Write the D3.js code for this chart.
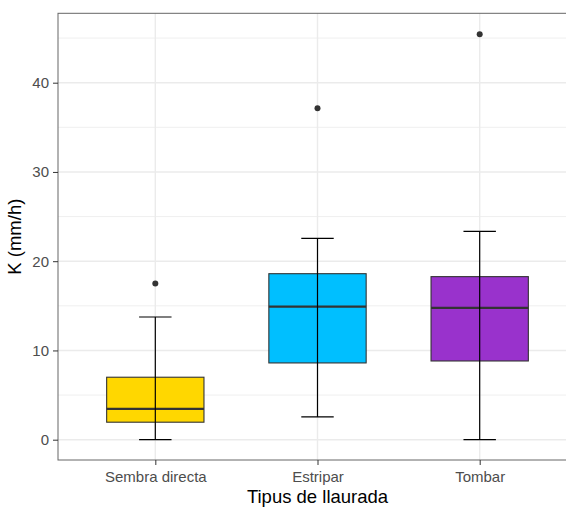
<!DOCTYPE html>
<html>
<head>
<meta charset="utf-8">
<script src="https://d3js.org/d3.v7.min.js"></script>
<style>
  body { margin: 0; background: #fff; }
  svg { display: block; font-family: "Liberation Sans", Arial, sans-serif; }
</style>
</head>
<body>
<div id="chart"></div>
<script>
var categories = ['Sembra directa', 'Estripar', 'Tombar'];
var colors = ['#FFD700', '#00BFFF', '#9932CC'];
// five-number summaries
var whiskerLow = [0, 2.55, 0];
var boxLow = [1.96, 8.6, 8.82];
var medians = [3.45, 14.9, 14.76];
var boxHigh = [7.0, 18.6, 18.27];
var whiskerHigh = [13.75, 22.56, 23.35];
var outliers = [[17.5], [37.15], [45.44]];
var yTicks = [0, 10, 20, 30, 40];
var yMinor = [5, 15, 25, 35, 45];

var width = 566, height = 509;
var margin = {left: 58, top: 13.3, right: -11, bottom: 49};
var pw = width - margin.left - margin.right;
var ph = height - margin.top - margin.bottom;

var data = categories.map(function(c, i) {
  return {cat: c, color: colors[i], lo: whiskerLow[i], q1: boxLow[i], med: medians[i],
          q3: boxHigh[i], hi: whiskerHigh[i], out: outliers[i]};
});

var svg = d3.select('#chart').append('svg')
  .attr('width', width).attr('height', height);

var g = svg.append('g').attr('transform', 'translate(' + margin.left + ',' + margin.top + ')');

var y = d3.scaleLinear().domain([-2.275, 47.775]).range([ph, 0]);
var x = d3.scalePoint().domain(categories).range([0, pw]).padding(0.6);
var step = x.step();

// grid
g.selectAll('.minor').data(yMinor).enter().append('line')
  .attr('x1', 0).attr('x2', pw)
  .attr('y1', function(d) { return y(d); }).attr('y2', function(d) { return y(d); })
  .attr('stroke', '#ebebeb').attr('stroke-width', 0.8);
g.selectAll('.major').data(yTicks).enter().append('line')
  .attr('x1', 0).attr('x2', pw)
  .attr('y1', function(d) { return y(d); }).attr('y2', function(d) { return y(d); })
  .attr('stroke', '#ebebeb').attr('stroke-width', 1.4);
g.selectAll('.vmajor').data(categories).enter().append('line')
  .attr('y1', 0).attr('y2', ph)
  .attr('x1', function(d) { return x(d); }).attr('x2', function(d) { return x(d); })
  .attr('stroke', '#ebebeb').attr('stroke-width', 1.4);

var bw = step * 0.6, ew = step * 0.2;

var box = g.selectAll('.box').data(data).enter().append('g');
box.append('rect')
  .attr('x', function(d) { return x(d.cat) - bw / 2; })
  .attr('width', bw)
  .attr('y', function(d) { return y(d.q3); })
  .attr('height', function(d) { return y(d.q1) - y(d.q3); })
  .attr('fill', function(d) { return d.color; })
  .attr('stroke', '#333333').attr('stroke-width', 1.1);
box.append('line')
  .attr('x1', function(d) { return x(d.cat) - bw / 2; })
  .attr('x2', function(d) { return x(d.cat) + bw / 2; })
  .attr('y1', function(d) { return y(d.med); }).attr('y2', function(d) { return y(d.med); })
  .attr('stroke', '#333333').attr('stroke-width', 2.2);
// error bar whiskers
box.append('line')
  .attr('x1', function(d) { return x(d.cat); }).attr('x2', function(d) { return x(d.cat); })
  .attr('y1', function(d) { return y(d.lo); }).attr('y2', function(d) { return y(d.hi); })
  .attr('stroke', '#000').attr('stroke-width', 1.2);
box.append('line')
  .attr('x1', function(d) { return x(d.cat) - ew / 2; }).attr('x2', function(d) { return x(d.cat) + ew / 2; })
  .attr('y1', function(d) { return y(d.lo); }).attr('y2', function(d) { return y(d.lo); })
  .attr('stroke', '#000').attr('stroke-width', 1.2);
box.append('line')
  .attr('x1', function(d) { return x(d.cat) - ew / 2; }).attr('x2', function(d) { return x(d.cat) + ew / 2; })
  .attr('y1', function(d) { return y(d.hi); }).attr('y2', function(d) { return y(d.hi); })
  .attr('stroke', '#000').attr('stroke-width', 1.2);
box.each(function(d) {
  d3.select(this).selectAll('circle').data(d.out).enter().append('circle')
    .attr('cx', x(d.cat)).attr('cy', function(v) { return y(v); })
    .attr('r', 3).attr('fill', '#333333');
});

// panel border
g.append('rect').attr('x', 0).attr('y', 0).attr('width', pw).attr('height', ph)
  .attr('fill', 'none').attr('stroke', '#666666').attr('stroke-width', 1);

// axes
var yAxis = g.append('g').call(d3.axisLeft(y).tickValues(yTicks).tickSize(5).tickPadding(4));
var xAxis = g.append('g').attr('transform', 'translate(0,' + ph + ')')
  .call(d3.axisBottom(x).tickSize(5).tickPadding(6));
[yAxis, xAxis].forEach(function(a) {
  a.select('.domain').remove();
  a.selectAll('.tick line').attr('stroke', '#333333').attr('stroke-width', 1);
  a.selectAll('.tick text').attr('fill', '#4d4d4d').style('font-size', '15px')
    .style('font-family', '"Liberation Sans", Arial, sans-serif');
});

svg.append('text').attr('x', margin.left + pw / 2).attr('y', 503)
  .attr('text-anchor', 'middle').style('font-size', '18.5px').text('Tipus de llaurada');
svg.append('text')
  .attr('transform', 'translate(21,' + (margin.top + ph / 2) + ') rotate(-90)')
  .attr('text-anchor', 'middle').style('font-size', '18.5px').text('K (mm/h)');
</script>
</body>
</html>
